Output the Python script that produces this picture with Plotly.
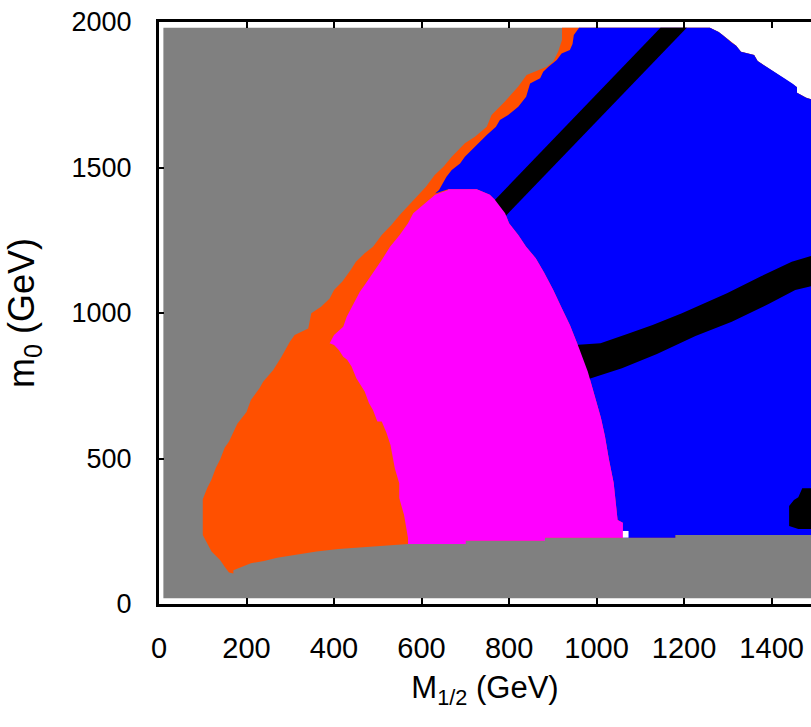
import plotly.graph_objects as go

# ---- data (GeV units) ----
# top-right corner boundary of the allowed region (white beyond it)
corner_x = [1259, 1279, 1288, 1298, 1309, 1319, 1330, 1360, 1368, 1389, 1408, 1429, 1449, 1458, 1458, 1479, 1500]
corner_y = [1980, 1966, 1955, 1944, 1929, 1918, 1898, 1887, 1866, 1845, 1826, 1807, 1787, 1776, 1757, 1740, 1730]

# gray / orange boundary (bottom tip -> top edge)
orange_left_x = [170, 160, 150, 140, 120, 110, 100, 100, 110, 120, 130, 140, 150, 160, 179, 200, 210, 230, 238, 261,
                 280, 299, 310, 341, 348, 371, 390, 400, 419, 438, 450, 470, 489, 509, 531, 550, 589, 610, 630, 650,
                 669, 699, 722, 749, 760, 790, 821, 840, 886, 901, 912, 921, 921]
orange_left_y = [105, 108, 128, 150, 180, 210, 237, 360, 398, 428, 468, 497, 537, 558, 619, 660, 701, 742, 764, 804,
                 850, 901, 924, 947, 999, 1022, 1050, 1079, 1108, 1148, 1176, 1205, 1228, 1268, 1302, 1337, 1400, 1434,
                 1474, 1503, 1537, 1583, 1606, 1640, 1680, 1726, 1778, 1818, 1846, 1864, 1898, 1938, 1980]

# lower gray boundary (right -> left)
bottom_x = [1500, 1180, 1180, 880, 880, 700, 700, 570, 480, 410, 360, 310, 270, 240, 210, 190, 170]
bottom_y = [237, 237, 228, 228, 217, 217, 206, 206, 197, 189, 180, 168, 159, 148, 140, 128, 116]

# orange strip / blue boundary (top -> down)
blue_left_x = [960, 948, 945, 939, 920, 909, 890, 878, 871, 848, 839, 821, 798, 779, 770, 749, 730, 711, 699, 688,
               669, 657, 648, 640, 631]
blue_left_y = [1980, 1955, 1924, 1904, 1892, 1869, 1846, 1829, 1807, 1789, 1743, 1709, 1680, 1663, 1640, 1612, 1583,
               1554, 1537, 1514, 1491, 1468, 1446, 1423, 1411]

# magenta top / right boundary (top-left -> bottom)
mag_right_x = [661, 726, 740, 756, 768, 779, 791, 800, 821, 839, 861, 880, 901, 920, 939, 960, 980, 999, 1010, 1019,
               1028, 1039, 1048, 1060, 1060]
mag_right_y = [1425, 1425, 1417, 1406, 1388, 1365, 1343, 1308, 1268, 1228, 1188, 1139, 1079, 1018, 959, 879, 798, 698,
               639, 577, 498, 417, 289, 279, 228]

# magenta bottom (right -> left)
mag_bottom_x = [882, 882, 701, 701, 569]
mag_bottom_y = [228, 217, 217, 206, 206]

# orange / magenta boundary (top -> bottom)
orange_mag_x = [661, 631, 608, 581, 569, 550, 528, 509, 489, 470, 459, 448, 429, 421, 400, 390, 400, 411, 421, 430,
                440, 451, 459, 470, 480, 489, 499, 509, 520, 529, 539, 549, 549, 560, 569, 569]
orange_mag_y = [1423, 1406, 1377, 1343, 1308, 1268, 1228, 1182, 1136, 1096, 1073, 1039, 987, 953, 924, 896, 890, 873,
                850, 839, 816, 776, 758, 730, 690, 667, 627, 627, 588, 546, 466, 415, 364, 306, 227, 206]

# black bands
band1_x = [1146, 1206, 790, 730]
band1_y = [1980, 1980, 1330, 1330]
band2_x = [950, 1009, 1070, 1128, 1195, 1248, 1298, 1377, 1446, 1500, 1500, 1454, 1393, 1309, 1226, 1138, 1058, 975]
band2_y = [890, 896, 928, 959, 999, 1035, 1068, 1127, 1176, 1200, 1095, 1079, 1031, 970, 921, 859, 810, 770]
blob_x = [1470, 1500, 1500, 1461, 1440, 1440, 1451, 1461]
blob_y = [398, 398, 258, 258, 268, 337, 357, 367]

# small white gap
gap_x = [1060, 1073, 1073, 1060]
gap_y = [228, 228, 251, 251]

x_ticks = [0, 200, 400, 600, 800, 1000, 1200, 1400]
y_ticks = [0, 500, 1000, 1500, 2000]

GRAY, ORANGE, MAGENTA, BLUE, BLACK = "#808080", "#FF5000", "#FF00FF", "#0000FF", "#000000"


def poly(xs, ys, color, name):
    return go.Scatter(x=xs, y=ys, fill="toself", fillcolor=color, mode="lines",
                      line=dict(width=0, color=color), name=name, hoverinfo="skip", showlegend=False)


gray_x = [10, 10] + corner_x + [1500]
gray_y = [20, 1980] + corner_y + [20]

orange_x = orange_left_x + corner_x + bottom_x
orange_y = orange_left_y + corner_y + bottom_y

blue_x = blue_left_x + mag_right_x + [1180, 1180, 1500] + corner_x[::-1] + [960]
blue_y = blue_left_y + mag_right_y + [228, 237, 237] + corner_y[::-1] + [1980]

magenta_x = mag_right_x + mag_bottom_x + orange_mag_x[::-1]
magenta_y = mag_right_y + mag_bottom_y + orange_mag_y[::-1]

fig = go.Figure()
fig.add_trace(poly(gray_x, gray_y, GRAY, "excluded"))
fig.add_trace(poly(orange_x, orange_y, ORANGE, "orange"))
fig.add_trace(poly(blue_x, blue_y, BLUE, "blue"))
fig.add_trace(poly(band1_x, band1_y, BLACK, "band1"))
fig.add_trace(poly(band2_x, band2_y, BLACK, "band2"))
fig.add_trace(poly(blob_x, blob_y, BLACK, "blob"))
fig.add_trace(poly(magenta_x, magenta_y, MAGENTA, "magenta"))
fig.add_trace(poly(gap_x, gap_y, "#FFFFFF", "gap"))

FONT = "Liberation Sans, Arial, sans-serif"

fig.update_layout(
    width=811, height=727,
    margin=dict(l=159, r=0, t=22, b=123),
    paper_bgcolor="white", plot_bgcolor="white",
    showlegend=False,
    xaxis=dict(range=[0, 1490], tickvals=x_ticks, ticks="inside", ticklen=6, tickwidth=2, tickcolor="black",
               showline=True, linewidth=3, linecolor="black", mirror="allticks", showgrid=False, zeroline=False,
               layer="above traces", tickfont=dict(family=FONT, size=29, color="black"), ticklabelstandoff=16,
               title=dict(text="M<sub>1/2</sub> (GeV)", font=dict(family=FONT, size=31, color="black"),
                          standoff=14)),
    yaxis=dict(range=[0, 2000], tickvals=y_ticks, ticks="inside", ticklen=5, tickwidth=2, tickcolor="black",
               showline=True, linewidth=3, linecolor="black", mirror=False, showgrid=False, zeroline=False,
               layer="above traces", tickfont=dict(family=FONT, size=27, color="black"), ticklabelstandoff=19,
               title=dict(text="m<sub>0</sub> (GeV)", font=dict(family=FONT, size=36, color="black"),
                          standoff=26)),
)

fig.write_html("out.html")
